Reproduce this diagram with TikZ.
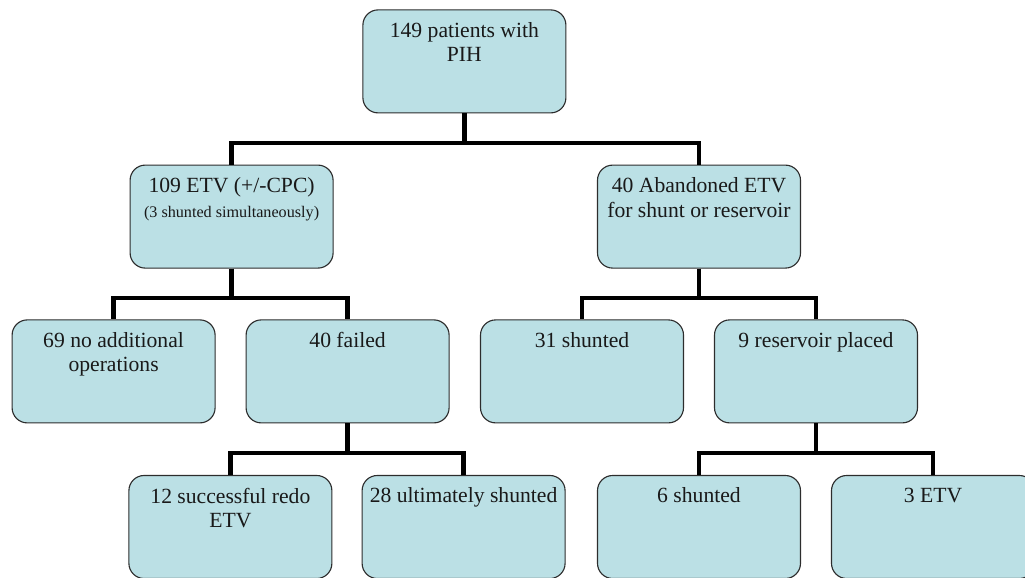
\documentclass[tikz,border=0pt]{standalone}
\usepackage{fontspec}
\setmainfont{Liberation Serif}
\usepackage{tikz}
\definecolor{boxfill}{RGB}{187,224,229}
\definecolor{boxline}{RGB}{45,45,45}
\newcommand{\boxtext}[1]{\parbox[c][2.575cm][t]{5.075cm}{\centering\vspace*{0.31cm}#1}}

\tikzset{
  stage/.style={draw=boxline, line width=0.8pt, fill=boxfill, rounded corners=0.38cm,
    inner sep=0pt, text=black!90, font=\rmfamily\fontsize{15.4}{17.5}\selectfont},
  link/.style={line width=3pt, black}
}

\begin{document}
\begin{tikzpicture}
        \useasboundingbox (0,0) rectangle (25.625,14.425);
        \clip (0,0) rectangle (25.625,14.425);

        \node[stage] (top) at (11.61,12.89) {\boxtext{149 patients with\\PIH}};
        \node[stage] (etv) at (5.79,9.01) {\boxtext{109 ETV (+/-CPC)\\{\fontsize{11.5}{13}\selectfont (3 shunted simultaneously)}}};
        \node[stage] (aband) at (17.475,9.01) {\boxtext{40 Abandoned ETV\\for shunt or reservoir}};

        \node[stage] (noop) at (2.84,5.14) {\boxtext{69 no additional\\operations}};
        \node[stage] (failed) at (8.69,5.14) {\boxtext{40 failed}};
        \node[stage] (shunt31) at (14.55,5.14) {\boxtext{31 shunted}};
        \node[stage] (reserv) at (20.4,5.14) {\boxtext{9 reservoir placed}};

        \node[stage] (redo) at (5.76,1.25) {\boxtext{12 successful redo\\ETV}};
        \node[stage] (shunt28) at (11.59,1.25) {\boxtext{28 ultimately shunted}};
        \node[stage] (shunt6) at (17.475,1.25) {\boxtext{6 shunted}};
        \node[stage] (etv3) at (23.325,1.25) {\boxtext{3 ETV}};

        % connectors
        \draw[link] (top.south) -- ++(0,-0.74) -| (etv.north);
        \draw[link] (top.south) -- ++(0,-0.74) -| (aband.north);
        \draw[link] (etv.south) -- ++(0,-0.73) -| (noop.north);
        \draw[link] (etv.south) -- ++(0,-0.73) -| (failed.north);
        \draw[link] (aband.south) -- ++(0,-0.73) -| (shunt31.north);
        \draw[link] (aband.south) -- ++(0,-0.73) -| (reserv.north);
        \draw[link] (failed.south) -- ++(0,-0.73) -| (redo.north);
        \draw[link] (failed.south) -- ++(0,-0.73) -| (shunt28.north);
        \draw[link] (reserv.south) -- ++(0,-0.73) -| (shunt6.north);
        \draw[link] (reserv.south) -- ++(0,-0.73) -| (etv3.north);
    \end{tikzpicture}
\end{document}
